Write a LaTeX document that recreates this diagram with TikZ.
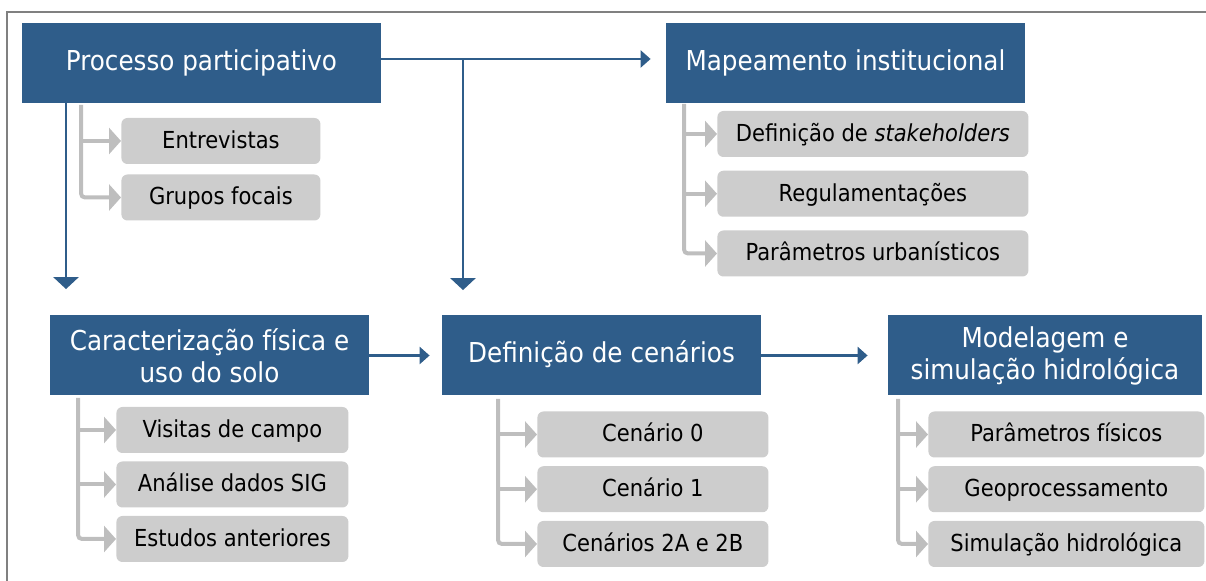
\documentclass[tikz,border=0pt]{standalone}
\usepackage{fontspec}
\setmainfont{DejaVu Sans Condensed}
\usetikzlibrary{arrows.meta}

\definecolor{headblue}{RGB}{47,93,138}
\definecolor{itemgray}{RGB}{205,205,205}
\definecolor{linkgray}{RGB}{190,190,190}
\definecolor{framegray}{RGB}{128,128,128}

\tikzset{
    head/.style={fill=headblue, text=white, align=center, inner sep=0pt,
        minimum height=40pt, font=\fontsize{13.7}{16}\selectfont},
    oneline/.style={text height=0.73em, text depth=0pt},
    item/.style={fill=itemgray, rounded corners=3pt, inner sep=0pt, anchor=west, oneline,
        minimum height=23pt, font=\fontsize{11.7}{14}\selectfont},
    flow/.style={draw=headblue, line width=1.4pt, -{Triangle[width=8.5pt, length=5pt]}},
    drop/.style={draw=headblue, line width=1.4pt, -{Triangle[width=12.5pt, length=6pt]}},
    branch/.style={draw=linkgray, line width=2pt, rounded corners=2pt,
        -{Triangle[width=13pt, length=6pt]}},
}

\begin{document}
\begin{tikzpicture}[x=0.5pt, y=-0.5pt]
    \useasboundingbox (0, 0) rectangle (1206, 581);
    \draw[framegray, line width=1pt] (1206, 12) -- (7, 12) -- (7, 581);

    % main steps
    \node[head, oneline, minimum width=179.5pt] (pp) at (201.5, 63) {Processo participativo};
    \node[head, oneline, minimum width=179.5pt] (mi) at (845.5, 63) {Mapeamento institucional};
    \node[head, minimum width=159.5pt] (cf) at (209.5, 355.5) {Caracterização física e\\uso do solo};
    \node[head, oneline, minimum width=159.5pt] (dc) at (601.5, 355.5) {Definição de cenários};
    \node[head, minimum width=157pt] (ms) at (1045, 355.5) {Modelagem e\\simulação hidrológica};

    % sub items
    \foreach \t [count=\i] in {Entrevistas, Grupos focais}
        \node[item, minimum width=99.5pt] (pp\i) at (121, {141 + (\i - 1)*56.5}) {\t};
    \foreach \t [count=\i] in {Definição de \textit{stakeholders}, Regulamentações, Parâmetros urbanísticos}
        \node[item, minimum width=155.5pt] (mi\i) at (717, {134 + (\i - 1)*59.75}) {\t};
    \foreach \t [count=\i] in {Visitas de campo, Análise dados SIG, Estudos anteriores}
        \node[item, minimum width=116pt] (cf\i) at (116, {430 + (\i - 1)*54.5}) {\t};
    \foreach \t [count=\i] in {Cenário 0, Cenário 1, Cenários 2A e 2B}
        \node[item, minimum width=115.5pt] (dc\i) at (537, {434.5 + (\i - 1)*54.75}) {\t};
    \foreach \t [count=\i] in {Parâmetros físicos, Geoprocessamento, Simulação hidrológica}
        \node[item, minimum width=138pt] (ms\i) at (928, {434.5 + (\i - 1)*54.75}) {\t};

    % gray trunks
    \coordinate (ppt) at (81, 105);
    \coordinate (mit) at (684, 104);
    \coordinate (cft) at (78, 398);
    \coordinate (dct) at (498, 399);
    \coordinate (mst) at (898, 399);
    \draw[branch] (ppt) |- (pp2.west);
    \draw[branch] (ppt |- pp1.west) -- (pp1.west);
    \foreach \s in {mi, cf, dc, ms} {
        \draw[branch] (\s t) |- (\s 3.west);
        \foreach \i in {1, 2}
            \draw[branch] (\s t |- \s\i.west) -- (\s\i.west);
    }

    % blue flow
    \coordinate (fork) at (463, 59);
    \coordinate (ppd) at (66, 103);
    \draw[flow, shorten >=7.5pt] ([yshift=2pt]pp.east) -- ([yshift=2pt]mi.west);
    \draw[drop, shorten >=12.5pt] (fork) -- (fork |- dc.north);
    \draw[drop, shorten >=13pt] (ppd) -- (ppd |- cf.north);
    \draw[flow, shorten >=6pt] (cf.east) -- (dc.west);
    \draw[flow, shorten >=10pt] (dc.east) -- (ms.west);
\end{tikzpicture}
\end{document}
